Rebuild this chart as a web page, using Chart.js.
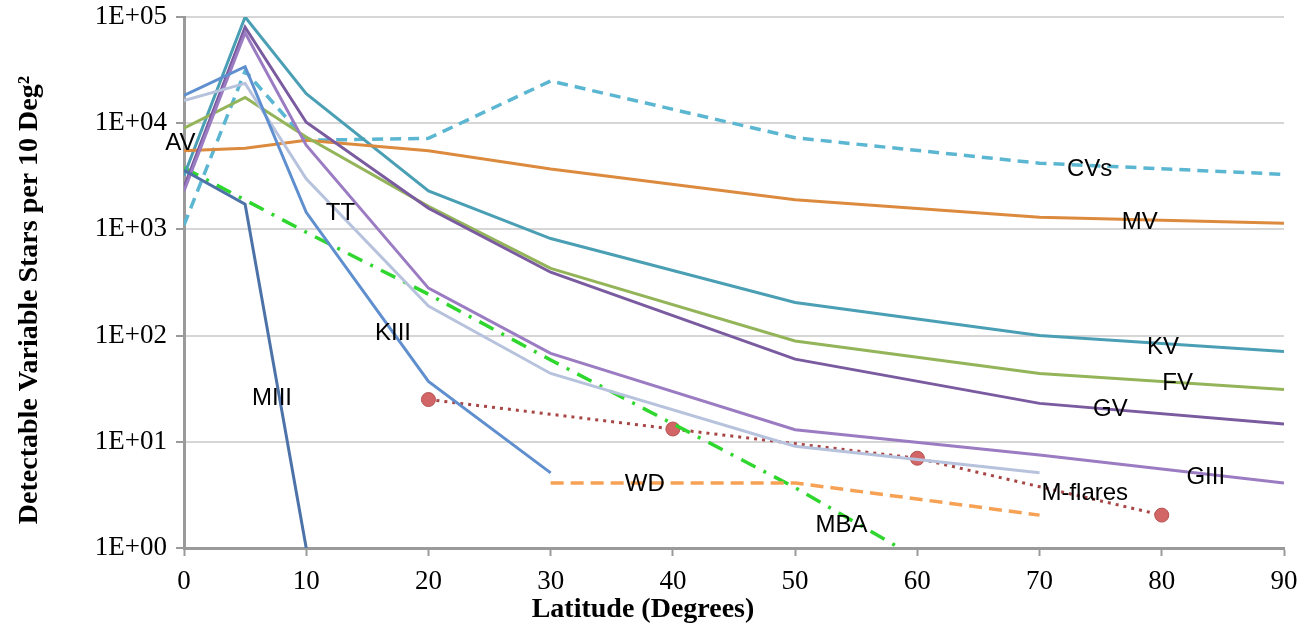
<!DOCTYPE html>
<html>
<head>
<meta charset="utf-8">
<script src="https://cdn.jsdelivr.net/npm/chart.js@4.4.1/dist/chart.umd.min.js"></script>
<style>
  html, body { margin: 0; padding: 0; background: #ffffff; }
  #wrap { position: relative; width: 1309px; height: 633px; }
</style>
</head>
<body>
<div id="wrap"><canvas id="c"></canvas></div>
<script>
// ---- data ----
const latitudes = [0, 5, 10, 20, 30, 50, 70, 90];
const kvValues   = [3200, 100000, 19000, 2300, 820, 205, 100, 71];
const mvValues   = [5500, 5800, 6900, 5500, 3700, 1900, 1300, 1140];
const cvsValues  = [1100, 31000, 6900, 7200, 25000, 7300, 4200, 3300];
const fvValues   = [9000, 17500, 7400, 1650, 430, 89, 44, 31];
const gvValues   = [2500, 80000, 10200, 1580, 395, 60, 23, 14.7];
const giiiValues = [2300, 71000, 6200, 280, 68, 13, 7.5, 4.1];
const ttLat      = [0, 5, 10, 20, 30, 50, 70];
const ttValues   = [16300, 23700, 3000, 190, 44, 9.1, 5.1];
const kiiiLat    = [0, 5, 10, 20, 30];
const kiiiValues = [18300, 34000, 1450, 37, 5.1];
const miiiLat    = [0, 5, 10];
const miiiValues = [3600, 1730, 1];
const mbaLat     = [0, 10, 20, 30, 50, 60];
const mbaValues  = [3800, 940, 245, 59, 3.7, 0.8];
const wdLat      = [30, 50, 70];
const wdValues   = [4.1, 4.1, 2.04];
const flareLat   = [20, 40, 60, 80];
const flareValues= [25, 13.2, 7.0, 2.04];

const xTicks = [0, 10, 20, 30, 40, 50, 60, 70, 80, 90];
const yTickValues = [1, 10, 100, 1000, 10000, 100000];
const yTickLabels = ['1E+00', '1E+01', '1E+02', '1E+03', '1E+04', '1E+05'];

const seriesLabels = ['AV', 'TT', 'KIII', 'MIII', 'WD', 'MBA', 'M-flares', 'GIII', 'GV', 'FV', 'KV', 'MV', 'CVs'];
const seriesLabelX = [-0.3, 12.8, 17.1, 7.2, 37.7, 53.8, 73.7, 83.6, 75.8, 81.3, 80.1, 78.2, 74.1];
const seriesLabelY = [6500, 1420, 105, 25.5, 4.0, 1.62, 3.25, 4.6, 20, 35.5, 78, 1170, 3650];

const xTitle = 'Latitude (Degrees)';
const yTitle = 'Detectable Variable Stars per 10 Deg\u00B2';

function pts(xs, ys) { return xs.map((x, i) => ({ x: x, y: ys[i] })); }

function line(label, xs, ys, color, extra) {
  return Object.assign({
    label: label,
    data: pts(xs, ys),
    borderColor: color,
    backgroundColor: color,
    borderWidth: 3,
    pointRadius: 0,
    pointHoverRadius: 0,
    tension: 0,
    fill: false
  }, extra || {});
}

const datasets = [
  line('MIII', miiiLat, miiiValues, '#4C72A8'),
  line('KIII', kiiiLat, kiiiValues, '#5F8FCF'),
  line('TT', ttLat, ttValues, '#B7C2DD'),
  line('GIII', latitudes, giiiValues, '#9B7CC2'),
  line('GV', latitudes, gvValues, '#7A5BA0'),
  line('FV', latitudes, fvValues, '#94B45A'),
  line('MV', latitudes, mvValues, '#DC8A3E'),
  line('KV', latitudes, kvValues, '#4A9FB5'),
  line('CVs', latitudes, cvsValues, '#5BB6D1', { borderWidth: 3.5, borderDash: [11, 7] }),
  line('WD', wdLat, wdValues, '#F7A155', { borderWidth: 3.5, borderDash: [13, 7] }),
  line('MBA', mbaLat, mbaValues, '#2ED62E', { borderWidth: 3.5, borderDash: [16, 9, 3, 9] }),
  line('M-flares', flareLat, flareValues, '#A84646', {
    borderWidth: 3, borderDash: [3, 5],
    pointRadius: 7, pointBackgroundColor: '#D26666', pointBorderColor: '#B55050', pointBorderWidth: 1
  })
];

const textPlugin = {
  id: 'textPlugin',
  afterDraw(chart) {
    const ctx = chart.ctx;
    const xs = chart.scales.x, ys = chart.scales.y;
    ctx.save();
    ctx.fillStyle = '#000000';
    ctx.font = '24px "Liberation Sans", Arial, sans-serif';
    ctx.textAlign = 'center';
    ctx.textBaseline = 'middle';
    seriesLabels.forEach((t, i) => {
      ctx.fillText(t, xs.getPixelForValue(seriesLabelX[i]), ys.getPixelForValue(seriesLabelY[i]));
    });
    // axis titles
    ctx.font = 'bold 28px "Liberation Serif", "Times New Roman", serif';
    ctx.fillText(xTitle, 643, 610);
    ctx.translate(30, 300);
    ctx.rotate(-Math.PI / 2);
    ctx.fillText(yTitle, 0, 0);
    ctx.restore();
  }
};

new Chart(document.getElementById('c'), {
  type: 'line',
  data: { datasets: datasets },
  options: {
    responsive: true,
    maintainAspectRatio: false,
    animation: false,
    layout: { padding: { top: 17, right: 25, left: 0, bottom: 0 } },
    plugins: { legend: { display: false }, tooltip: { enabled: false } },
    scales: {
      x: {
        type: 'linear',
        min: 0, max: 90,
        afterBuildTicks(scale) { scale.ticks = xTicks.map(v => ({ value: v })); },
        afterFit(scale) { scale.height = 85; scale.paddingLeft = 0; scale.paddingRight = 0; },
        ticks: {
          color: '#000000',
          padding: 10,
          font: { family: '"Liberation Serif", "Times New Roman", serif', size: 27 },
          maxRotation: 0
        },
        grid: { drawOnChartArea: false, drawTicks: true, tickLength: 8, tickColor: '#9A9A9A', tickWidth: 2 },
        border: { color: '#9A9A9A', width: 3 }
      },
      y: {
        type: 'logarithmic',
        min: 1, max: 100000,
        afterBuildTicks(scale) { scale.ticks = yTickValues.map(v => ({ value: v })); },
        afterFit(scale) { scale.width = 184; scale.paddingTop = 0; scale.paddingBottom = 0; },
        ticks: {
          color: '#000000',
          padding: 9,
          font: { family: '"Liberation Serif", "Times New Roman", serif', size: 27 },
          callback(value) {
            const i = yTickValues.indexOf(value);
            return i >= 0 ? yTickLabels[i] : '';
          }
        },
        grid: { color: '#D6D6D6', lineWidth: 2, drawTicks: true, tickLength: 8, tickColor: '#9A9A9A', tickWidth: 2 },
        border: { color: '#9A9A9A', width: 3 }
      }
    }
  },
  plugins: [textPlugin]
});
</script>
</body>
</html>
